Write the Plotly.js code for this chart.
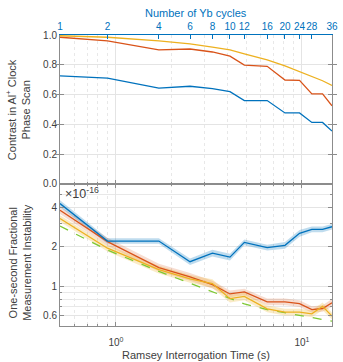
<!DOCTYPE html>
<html><head><meta charset="utf-8">
<script src="https://cdn.plot.ly/plotly-3.0.1.min.js"></script>
<style>html,body{margin:0;padding:0;background:#fff}</style>
</head><body><div id="chart" style="width:343px;height:362px"></div>
<script>
// Data
const ybCycles = [1,2,4,6,8,10,12,16,20,24,28,32,36];
const ramseyTime = [0.5,0.9,1.7,2.5,3.3,4.1,4.9,6.5,8.1,9.7,11.3,12.9,14.5];
const topTickCycles = [1,2,4,6,8,10,12,16,20,24,28,36];

const contrastBlue   = [0.726,0.71,0.643,0.656,0.64,0.62,0.56,0.56,0.477,0.477,0.413,0.413,0.355];
const contrastOrange = [0.985,0.96,0.90,0.906,0.886,0.858,0.798,0.79,0.698,0.696,0.605,0.605,0.525];
const contrastYellow = [0.995,0.985,0.96,0.94,0.918,0.90,0.873,0.833,0.793,0.753,0.722,0.693,0.661];

// instability in units of 1e-16
const instabBlue   = [4.26,2.21,2.21,1.54,1.79,1.67,2.16,1.97,2.05,2.53,2.71,2.71,2.84];
const instabOrange = [3.79,2.19,1.39,1.18,1.03,0.876,0.907,0.762,0.762,0.74,0.667,0.679,0.75];
const instabYellow = [3.28,1.95,1.34,1.14,1.05,0.807,0.84,0.675,0.637,0.637,0.619,0.706,0.594];
const instabTheory = [2.87,1.89,1.30,1.06,0.91,0.818,0.736,0.667,0.63,0.60,0.58,0.56,0.544];
// relative uncertainty (shaded bands)
const errBlue   = [0.06,0.05,0.05,0.06,0.06,0.06,0.05,0.05,0.06,0.06,0.05,0.05,0.05];
const errOrange = [0.07,0.07,0.07,0.07,0.07,0.06,0.06,0.06,0.06,0.06,0.06,0.06,0.07];
const errYellow = [0.06,0.06,0.07,0.07,0.08,0.07,0.07,0.06,0.06,0.06,0.06,0.07,0.06];

const C = {blue:'#0072BD', orange:'#D95319', yellow:'#EDB120', green:'#7DC832'};
const fills = {blue:'rgba(0,114,189,0.25)', orange:'rgba(217,83,25,0.2)', yellow:'rgba(237,177,32,0.25)'};

const traces = [];
// top panel
[[contrastBlue,'blue'],[contrastOrange,'orange'],[contrastYellow,'yellow']].forEach(([v,c])=>{
  traces.push({x:ramseyTime,y:v,xaxis:'x',yaxis:'y',mode:'lines',line:{color:C[c],width:1.3},hoverinfo:'skip'});
});
// bands
[[instabOrange,errOrange,'orange'],[instabYellow,errYellow,'yellow'],[instabBlue,errBlue,'blue']].forEach(([v,e,c])=>{
  traces.push({x:ramseyTime,y:v.map((a,i)=>a/(1+e[i])),xaxis:'x2',yaxis:'y2',mode:'lines',line:{width:0,color:fills[c]},hoverinfo:'skip'});
  traces.push({x:ramseyTime,y:v.map((a,i)=>a*(1+e[i])),xaxis:'x2',yaxis:'y2',mode:'lines',line:{width:0,color:fills[c]},fill:'tonexty',fillcolor:fills[c],hoverinfo:'skip'});
});
traces.push({x:ramseyTime,y:instabTheory,xaxis:'x2',yaxis:'y2',mode:'lines',line:{color:C.green,width:1.3,dash:'dash'},hoverinfo:'skip'});
[[instabOrange,'orange'],[instabYellow,'yellow'],[instabBlue,'blue']].forEach(([v,c])=>{
  traces.push({x:ramseyTime,y:v,xaxis:'x2',yaxis:'y2',mode:'lines',line:{color:C[c],width:1.3},hoverinfo:'skip'});
});
// invisible trace to activate the top axis
traces.push({x:ramseyTime,y:contrastYellow,xaxis:'x3',yaxis:'y',mode:'lines',line:{width:0},opacity:0,hoverinfo:'skip'});

const xRange = [Math.log10(0.5), Math.log10(14.5)];
const minorX = [0.6,0.7,0.8,0.9,2,3,4,5,6,7,8,9];
const axisGray = '#8c8c8c';
const gridMaj = '#e4e4e4';
const gridMin = '#e8e8e8';
const FONT = 'Liberation Sans, Arial, sans-serif';
const tickFont = {family:FONT, size:10, color:'#404040'};

const layout = {
  width:343, height:362,
  margin:{l:60, r:11, t:35, b:36},
  paper_bgcolor:'#fff', plot_bgcolor:'#fff',
  showlegend:false,
  font:{family:FONT, size:10, color:'#404040'},
  xaxis:{type:'log', range:xRange, anchor:'y', domain:[0,1], showticklabels:false,
    tickvals:[1,10], ticks:'inside', ticklen:4, tickcolor:axisGray,
    showgrid:true, gridcolor:gridMaj, gridwidth:1,
    minor:{tickvals:minorX, ticks:'inside', ticklen:2, tickcolor:axisGray, showgrid:true, gridcolor:gridMin, griddash:'dot'},
    showline:true, linecolor:axisGray, linewidth:1, zeroline:false},
  xaxis3:{type:'log', range:xRange, overlaying:'x', anchor:'y', side:'top',
    tickvals: topTickCycles.map(n=>ramseyTime[ybCycles.indexOf(n)]),
    ticktext: topTickCycles.map(String), tickangle:0,
    ticks:'inside', ticklen:4, tickcolor:C.blue, tickfont:{family:FONT,size:10,color:C.blue},
    showgrid:false, showline:true, linecolor:C.blue, linewidth:1, zeroline:false},
  yaxis:{domain:[0.488,1], range:[0,1], anchor:'x',
    tickvals:[0,0.2,0.4,0.6,0.8,1], ticktext:['0.0','0.2','0.4','0.6','0.8','1.0'],
    ticks:'inside', ticklen:4, tickcolor:axisGray, tickfont:tickFont,
    showgrid:true, gridcolor:gridMaj, showline:true, linecolor:axisGray, mirror:'allticks', zeroline:false},
  xaxis2:{type:'log', range:xRange, anchor:'y2', domain:[0,1],
    tickvals:[1,10], ticktext:['10<sup>0</sup>','10<sup>1</sup>'], tickfont:tickFont, tickangle:0,
    ticks:'inside', ticklen:4, tickcolor:axisGray, ticklabelstandoff:7,
    showgrid:true, gridcolor:gridMaj,
    minor:{tickvals:minorX, ticks:'inside', ticklen:2, tickcolor:axisGray, showgrid:true, gridcolor:gridMin, griddash:'dot'},
    showline:true, linecolor:axisGray, mirror:'allticks', zeroline:false},
  yaxis2:{type:'log', domain:[0,0.488], range:[Math.log10(0.5), Math.log10(6)], anchor:'x2',
    tickvals:[0.6,1,2,4], ticktext:['0.6','1','2','4'], tickfont:tickFont,
    ticks:'inside', ticklen:4, tickcolor:axisGray,
    showgrid:true, gridcolor:gridMaj,
    minor:{tickvals:[0.7,0.8,0.9,3,5], ticks:'inside', ticklen:2, tickcolor:axisGray, showgrid:true, gridcolor:gridMin},
    showline:true, linecolor:axisGray, mirror:'allticks', zeroline:false},
  annotations:[
    {text:'Number of Yb cycles', xref:'paper', yref:'paper', x:0.5, y:1+(35-13)/291, xanchor:'center', yanchor:'middle', showarrow:false, font:{family:FONT,size:11,color:C.blue}},
    {text:'Ramsey Interrogation Time (s)', xref:'paper', yref:'paper', x:0.5, y:-(355-326)/291, xanchor:'center', yanchor:'middle', showarrow:false, font:{family:FONT,size:11,color:'#404040'}},
    {text:'×10<sup>-16</sup>', xref:'x2 domain', yref:'y2 domain', x:0.012, y:1.01, xanchor:'left', yanchor:'top', showarrow:false, font:{family:FONT,size:12.5,color:'#404040'}},
    {text:'Contrast in Al<sup>+</sup> Clock<br>Phase Scan', textangle:-90, xref:'paper', yref:'y domain', x:-0.152, y:0.5, xanchor:'center', yanchor:'middle', showarrow:false, font:{family:FONT,size:11,color:'#404040'}},
    {text:'One-second Fractional<br>Measurement Instability', textangle:-90, xref:'paper', yref:'y2 domain', x:-0.148, y:0.45, xanchor:'center', yanchor:'middle', showarrow:false, font:{family:FONT,size:11,color:'#404040'}}
  ]
};
Plotly.newPlot('chart', traces, layout, {staticPlot:true, displayModeBar:false});
</script></body></html>
